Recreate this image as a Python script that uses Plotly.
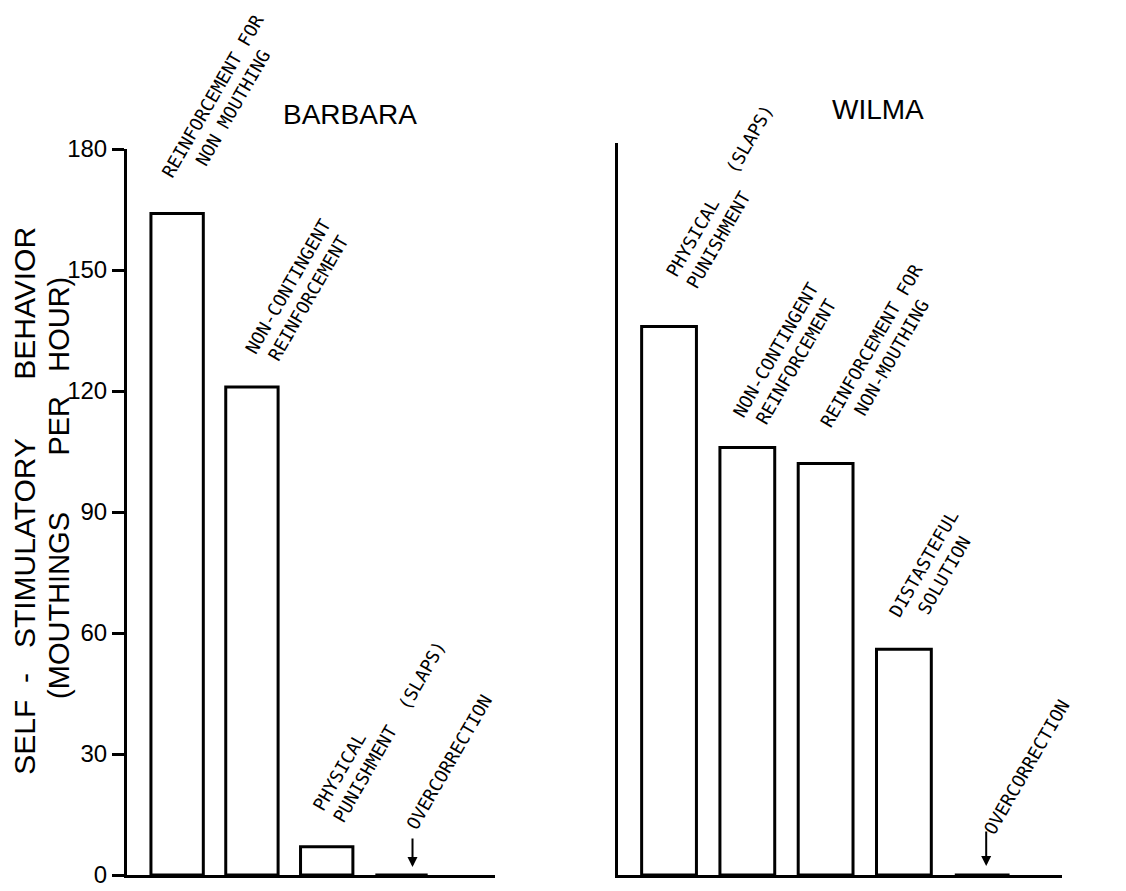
import plotly.graph_objects as go

# ---------------- data ----------------
barbara_conditions = ["REINFORCEMENT FOR NON MOUTHING", "NON-CONTINGENT REINFORCEMENT",
                      "PHYSICAL PUNISHMENT (SLAPS)", "OVERCORRECTION"]
barbara_values = [164, 121, 7, 0]
barbara_labels = ["REINFORCEMENT FOR<br>NON MOUTHING",
                  "NON-CONTINGENT<br>REINFORCEMENT",
                  "PHYSICAL<br>PUNISHMENT\u00a0\u00a0(SLAPS)",
                  "OVERCORRECTION"]

wilma_conditions = ["PHYSICAL PUNISHMENT (SLAPS)", "NON-CONTINGENT REINFORCEMENT",
                    "REINFORCEMENT FOR NON-MOUTHING", "DISTASTEFUL SOLUTION", "OVERCORRECTION"]
wilma_values = [136, 106, 102, 56, 0]
wilma_labels = ["PHYSICAL\u00a0\u00a0\u00a0(SLAPS)<br>PUNISHMENT",
                "NON-CONTINGENT<br>REINFORCEMENT",
                "REINFORCEMENT FOR<br>NON-MOUTHING",
                "DISTASTEFUL<br>SOLUTION",
                "OVERCORRECTION"]

y_ticks = [0, 30, 60, 90, 120, 150, 180]
panel_titles = ["BARBARA", "WILMA"]
NB = "\u00a0"
y_title_1 = "SELF" + NB * 2 + "-" + NB * 3 + "STIMULATORY" + NB * 7 + "BEHAVIOR"
y_title_2 = "(MOUTHINGS" + NB * 7 + "PER" + NB * 3 + "HOUR)"

# ---------------- styling (label placement offsets in px) ----------------
b_shift = [(45, 112, "center"), (46, 95, "center"), (52, 121, "left"), (47, 113, "center")]
w_shift = [(60, 130, "left"), (39, 92, "center"), (55, 112, "center"), (30, 80, "center"), (45, 108, "center")]

LABEL_FONT = dict(family="DejaVu Sans Mono", size=18, color="black")
BIG_FONT = dict(family="Liberation Sans", size=28, color="black")
YT_FONT1 = dict(family="Liberation Sans", size=30, color="black")
YT_FONT2 = dict(family="Liberation Sans", size=29, color="black")
TICK_FONT = dict(family="Liberation Sans Narrow, Liberation Sans", size=24, color="black")

fig = go.Figure()
fig.add_trace(go.Bar(x=barbara_conditions, y=barbara_values, width=0.7,
                     marker=dict(color="white", line=dict(color="black", width=3)),
                     xaxis="x", yaxis="y", showlegend=False))
fig.add_trace(go.Bar(x=wilma_conditions, y=wilma_values, width=0.7,
                     marker=dict(color="white", line=dict(color="black", width=3)),
                     xaxis="x2", yaxis="y2", showlegend=False))

annotations = []
for cond, val, lab, (dx, dy, al) in zip(barbara_conditions, barbara_values, barbara_labels, b_shift):
    annotations.append(dict(x=cond, y=val, xref="x", yref="y", text=lab, showarrow=False,
                            textangle=-60, xshift=dx, yshift=dy, align=al, font=LABEL_FONT,
                            xanchor="center", yanchor="middle"))
for cond, val, lab, (dx, dy, al) in zip(wilma_conditions, wilma_values, wilma_labels, w_shift):
    annotations.append(dict(x=cond, y=val, xref="x2", yref="y2", text=lab, showarrow=False,
                            textangle=-60, xshift=dx, yshift=dy, align=al, font=LABEL_FONT,
                            xanchor="center", yanchor="middle"))

# arrows marking zero-rate conditions
annotations.append(dict(x=barbara_conditions[3], y=0, xref="x", yref="y", text="", showarrow=True,
                        ax=0, ay=-30, arrowhead=2, arrowsize=1, arrowwidth=2, arrowcolor="black",
                        xshift=11, yshift=8))
annotations.append(dict(x=wilma_conditions[4], y=0, xref="x2", yref="y2", text="", showarrow=True,
                        ax=0, ay=-36, arrowhead=2, arrowsize=1, arrowwidth=2, arrowcolor="black",
                        xshift=4, yshift=9))

# panel titles
annotations.append(dict(x=0.3037, y=0.8800, xref="paper", yref="paper", text=panel_titles[0],
                        showarrow=False, font=BIG_FONT, xanchor="center", yanchor="middle"))
annotations.append(dict(x=0.7726, y=0.8856, xref="paper", yref="paper", text=panel_titles[1],
                        showarrow=False, font=BIG_FONT, xanchor="center", yanchor="middle"))

# y-axis title (two lines)
annotations.append(dict(x=0.0145, y=0.4473, xref="paper", yref="paper", text=y_title_1,
                        showarrow=False, textangle=-90, font=YT_FONT1,
                        xanchor="center", yanchor="middle"))
annotations.append(dict(x=0.0452, y=0.4613, xref="paper", yref="paper", text=y_title_2,
                        showarrow=False, textangle=-90, font=YT_FONT2,
                        xanchor="center", yanchor="middle"))

axis_common = dict(showline=True, linecolor="black", linewidth=3, showgrid=False,
                   zeroline=False, automargin=False)

fig.update_layout(
    template="none",
    width=1126, height=891,
    margin=dict(l=0, r=0, t=0, b=0, pad=0, autoexpand=False),
    paper_bgcolor="white", plot_bgcolor="white",
    showlegend=False,
    annotations=annotations,
    xaxis=dict(domain=[0.1057, 0.4325], range=[-0.67, 4.25], showticklabels=False, ticks="",
               anchor="y", **axis_common),
    yaxis=dict(domain=[0.02694, 0.84175], range=[0, 180], tickvals=y_ticks, ticks="outside",
               ticklen=12, tickwidth=3, tickcolor="black", anchor="x",
               tickfont=TICK_FONT, **axis_common),
    xaxis2=dict(domain=[0.5418, 0.9361], range=[-0.651, 5.02], showticklabels=False, ticks="",
                anchor="y2", **axis_common),
    yaxis2=dict(domain=[0.02694, 0.84848], range=[0, 181.5], showticklabels=False, ticks="",
                anchor="x2", **axis_common),
)

fig.write_html("out.html")
